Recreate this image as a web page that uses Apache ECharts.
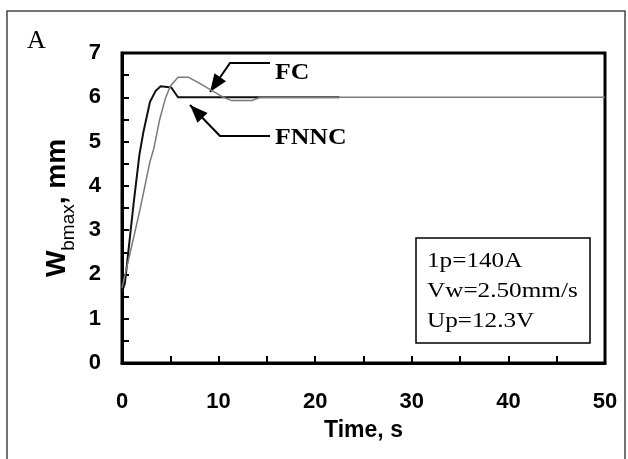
<!DOCTYPE html>
<html>
<head>
<meta charset="utf-8">
<script src="https://cdn.jsdelivr.net/npm/echarts@6/dist/echarts.min.js"></script>
<style>
  html, body { margin: 0; padding: 0; background: #fff; }
  #chart { width: 628px; height: 459px; }
</style>
</head>
<body>
<div id="chart"></div>
<script>
// data (time in s, width in mm)
var fcTime = [0, 0.8, 1.8, 2.9, 3.3, 3.9, 4.5, 5.0, 5.8, 6.9, 8.0, 9.1, 10.5, 11.3, 13.5, 14.3, 50];
var fcWidth = [1.7, 2.45, 3.4, 4.55, 4.85, 5.5, 5.98, 6.25, 6.45, 6.45, 6.32, 6.18, 6.0, 5.93, 5.93, 6.0, 6.0];
var fnncTime = [0, 0.3, 0.7, 1.2, 1.8, 2.2, 2.9, 3.5, 4.0, 5.1, 5.8, 22.5];
var fnncWidth = [1.6, 1.8, 2.6, 3.6, 4.7, 5.2, 5.9, 6.15, 6.25, 6.22, 6.0, 6.0];
var xTicks = [0, 10, 20, 30, 40, 50];
var yTicks = [0, 1, 2, 3, 4, 5, 6, 7];
var boxLines = ["1p=140A", "Vw=2.50mm/s", "Up=12.3V"];

function pairs(xs, ys) {
  return xs.map(function (x, i) { return [x, ys[i]]; });
}

// filled arrow head, tip at t, coming from point f
function head(t, f) {
  var dx = t[0] - f[0], dy = t[1] - f[1];
  var len = Math.sqrt(dx * dx + dy * dy);
  var ux = dx / len, uy = dy / len;
  var L = 18, W = 7;
  var bx = t[0] - ux * L, by = t[1] - uy * L;
  return [t, [bx - uy * W, by + ux * W], [bx + uy * W, by - ux * W]];
}

var chart = echarts.init(document.getElementById("chart"));
var labelFont = "Liberation Sans";
var serif = "Liberation Serif";

var fcTip = [210, 92], fcElbow = [230, 63];
var fnTip = [190, 105], fnElbow = [220, 136];

chart.setOption({
  backgroundColor: "#fff",
  animation: false,
  grid: {
    left: 122, right: 23, top: 53, bottom: 96,
    show: true, borderColor: "#000", borderWidth: 3
  },
  xAxis: {
    type: "value",
    min: xTicks[0], max: xTicks[xTicks.length - 1], interval: 10,
    name: "Time, s",
    nameLocation: "middle",
    nameGap: 56,
    nameTextStyle: { color: "#000", fontFamily: labelFont, fontWeight: "bold", fontSize: 23 },
    axisLine: { lineStyle: { color: "#000", width: 3 } },
    axisTick: { inside: true, length: 7, lineStyle: { color: "#000", width: 2 } },
    minorTick: { show: true, splitNumber: 2, length: 7, lineStyle: { color: "#000", width: 2 } },
    splitLine: { show: false },
    axisLabel: { color: "#000", fontFamily: labelFont, fontWeight: "bold", fontSize: 22, margin: 28 }
  },
  yAxis: {
    type: "value",
    min: yTicks[0], max: yTicks[yTicks.length - 1], interval: 1,
    name: "{a|W}{b|bmax}{a|, mm}",
    nameLocation: "middle",
    nameGap: 48,
    nameTextStyle: {
      color: "#000",
      rich: {
        a: { fontFamily: labelFont, fontWeight: "bold", fontSize: 28, color: "#000", lineHeight: 32, verticalAlign: "bottom" },
        b: { fontFamily: labelFont, fontSize: 19, color: "#000", lineHeight: 19, verticalAlign: "bottom", padding: [0, 0, -7, 0] }
      }
    },
    axisLine: { lineStyle: { color: "#000", width: 3 } },
    axisTick: { inside: true, length: 7, lineStyle: { color: "#000", width: 2 } },
    minorTick: { show: true, splitNumber: 2, length: 7, lineStyle: { color: "#000", width: 2 } },
    splitLine: { show: false },
    axisLabel: { color: "#000", fontFamily: labelFont, fontWeight: "bold", fontSize: 22, margin: 21 }
  },
  series: [
    {
      name: "FNNC",
      type: "line",
      data: pairs(fnncTime, fnncWidth),
      symbol: "none",
      lineStyle: { color: "#111", width: 2 }
    },
    {
      name: "FC",
      type: "line",
      data: pairs(fcTime, fcWidth),
      symbol: "none",
      lineStyle: { color: "#7a7a7a", width: 1.5 }
    }
  ],
  graphic: [
    { type: "rect", shape: { x: 7, y: 11, width: 618, height: 470 },
      style: { fill: "none", stroke: "#444", lineWidth: 1.5 }, silent: true },
    { type: "text", x: 27, y: 28,
      style: { text: "A", font: "26px " + serif, fill: "#000" } },
    // FC annotation
    { type: "polyline", shape: { points: [[270, fcElbow[1]], fcElbow, fcTip] },
      style: { stroke: "#000", lineWidth: 2, fill: "none" } },
    { type: "polygon", shape: { points: head(fcTip, fcElbow) }, style: { fill: "#000" } },
    { type: "text", x: 275, y: 73, scaleX: 1.12, scaleY: 1,
      style: { text: "FC", font: "bold 23px " + serif, fill: "#000", verticalAlign: "middle" } },
    // FNNC annotation
    { type: "polyline", shape: { points: [[270, fnElbow[1]], fnElbow, fnTip] },
      style: { stroke: "#000", lineWidth: 2, fill: "none" } },
    { type: "polygon", shape: { points: head(fnTip, fnElbow) }, style: { fill: "#000" } },
    { type: "text", x: 275, y: 138, scaleX: 1.12, scaleY: 1,
      style: { text: "FNNC", font: "bold 23px " + serif, fill: "#000", verticalAlign: "middle" } },
    // parameter box
    { type: "rect", shape: { x: 416, y: 238, width: 174, height: 105 },
      style: { fill: "#fff", stroke: "#000", lineWidth: 1.5 } },
    { type: "text", x: 427, y: 261, scaleX: 1.2, scaleY: 1,
      style: { text: boxLines[0], font: "21px " + serif, fill: "#000", verticalAlign: "middle" } },
    { type: "text", x: 427, y: 291, scaleX: 1.2, scaleY: 1,
      style: { text: boxLines[1], font: "21px " + serif, fill: "#000", verticalAlign: "middle" } },
    { type: "text", x: 427, y: 321, scaleX: 1.2, scaleY: 1,
      style: { text: boxLines[2], font: "21px " + serif, fill: "#000", verticalAlign: "middle" } }
  ]
});
</script>
</body>
</html>
